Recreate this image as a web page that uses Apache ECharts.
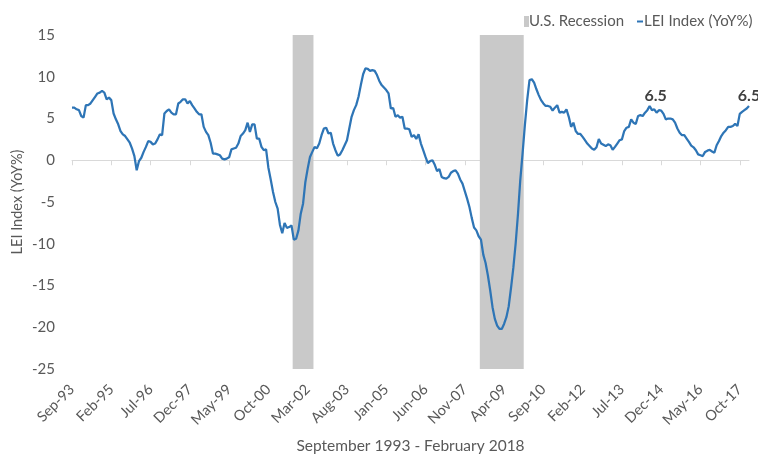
<!DOCTYPE html>
<html>
<head>
<meta charset="utf-8">
<script src="https://cdn.jsdelivr.net/npm/echarts@6/dist/echarts.min.js"></script>
<style>
html,body{margin:0;padding:0;background:#fff;}
#chart{width:758px;height:454px;}
</style>
</head>
<body>
<div id="chart"></div>
<script>
// Monthly LEI YoY% values, Sep-1993 .. Feb-2018
const startYear = 1993;
const startMonth = 8; // September (0-based)
const monthNames = ['Jan','Feb','Mar','Apr','May','Jun','Jul','Aug','Sep','Oct','Nov','Dec'];

const leiYoY = [
  6.3, 6.3, 6.1, 6.0, 5.3, 5.1, 6.6, 6.6, 6.8, 7.2, 7.6, 8.0,
  8.1, 8.3, 8.1, 7.3, 7.5, 7.2, 5.6, 4.9, 4.3, 3.5, 3.1, 2.9,
  2.5, 2.1, 1.4, 0.5, -1.2, -0.1, 0.3, 1.0, 1.6, 2.3, 2.2, 1.9,
  2.0, 2.5, 3.1, 3.0, 5.6, 5.9, 6.1, 5.7, 5.5, 5.5, 6.8, 7.0,
  7.3, 7.3, 6.8, 7.1, 6.6, 6.2, 5.8, 5.5, 5.5, 4.0, 3.4, 3.0,
  2.1, 0.8, 0.8, 0.7, 0.6, 0.2, 0.1, 0.2, 0.35, 1.3, 1.4, 1.5,
  2.0, 2.9, 3.2, 3.6, 4.5, 3.4, 4.3, 4.3, 2.6, 2.6, 1.6, 1.2,
  1.3, -0.9, -2.3, -3.8, -5.0, -5.8, -7.75, -8.75, -7.5, -8.1, -8.0, -7.8,
  -9.5, -9.4, -8.4, -6.4, -5.2, -2.6, -1.0, 0.4, 1.0, 1.6, 1.45, 2.0,
  3.0, 3.8, 3.9, 3.2, 3.3, 2.0, 1.2, 0.55, 0.7, 1.2, 1.8, 2.4,
  3.8, 5.2, 6.0, 6.6, 7.6, 9.0, 10.3, 11.0, 10.95, 10.7, 10.8, 10.7,
  10.2, 9.5, 9.0, 8.7, 8.4, 8.0, 6.2, 6.25, 5.2, 5.4, 5.1, 5.2,
  3.8, 3.8, 3.7, 2.8, 3.0, 2.55, 3.1, 2.0, 1.2, 0.4, -0.35, -0.1,
  0.0, -0.55, -1.3, -1.05, -2.0, -2.15, -2.2, -2.0, -1.5, -1.3, -1.2, -1.6,
  -2.3, -2.8, -3.7, -4.6, -5.6, -6.9, -8.05, -8.4, -9.1, -9.5, -11.3, -12.3,
  -13.8, -15.6, -17.6, -19.0, -19.8, -20.2, -20.2, -19.6, -18.8, -17.5, -15.3, -12.9,
  -10.0, -6.5, -2.4, 0.8, 4.2, 7.2, 9.6, 9.7, 9.3, 8.5, 7.8, 7.2,
  6.8, 6.5, 6.5, 6.4, 5.95, 6.3, 6.6, 5.7, 5.8, 5.7, 6.1, 5.2,
  4.0, 4.5, 3.5, 3.15, 3.15, 2.8, 2.4, 2.0, 1.7, 1.4, 1.25, 1.55,
  2.55, 2.0, 1.85, 1.7, 1.9, 1.8, 1.25, 1.6, 2.0, 2.4, 2.5, 3.5,
  3.9, 4.0, 4.9, 4.5, 4.35, 5.3, 5.4, 5.3, 5.7, 6.0, 6.5, 6.0,
  6.1, 5.7, 6.0, 5.95, 5.55, 4.9, 5.0, 5.0, 4.9, 4.5, 3.8, 3.3,
  3.0, 3.0, 2.6, 2.2, 1.75, 1.55, 1.2, 0.7, 0.6, 0.5, 1.0, 1.15,
  1.25, 1.05, 0.9, 1.8, 2.3, 2.9, 3.3, 3.6, 4.0, 4.0, 4.1, 4.35,
  4.1, 5.55, 5.8, 6.0, 6.2, 6.5
];

// Shaded recession spans as drawn on the chart (category labels, inclusive months)
const recessionStart = ['Sep-01', 'Jun-08'];
const recessionEnd   = ['May-02', 'Dec-09'];

// Points annotated with their value
const labelledPoints = ['Jul-14', 'Feb-18'];

const yTicks = { min: -25, max: 15, step: 5 };

// ---- build categories ----
const categories = leiYoY.map((_, i) => {
  const m = (startMonth + i) % 12;
  const y = startYear + Math.floor((startMonth + i) / 12);
  return monthNames[m] + '-' + String(y % 100).padStart(2, '0');
});

const recessionData = recessionStart.map((s, k) => [
  categories.indexOf(s), categories.indexOf(recessionEnd[k])
]);

const lineData = leiYoY.map((v, i) => {
  const li = labelledPoints.indexOf(categories[i]);
  if (li >= 0) {
    return {
      value: v,
      label: {
        show: true, position: 'top', distance: 2,
        offset: li === 0 ? [6, 0] : [0, 0],
        formatter: p => p.value.toFixed(1),
        fontFamily: 'Lato', fontWeight: 'bold', fontSize: 16, color: '#404040'
      }
    };
  }
  return v;
});

const FONT = 'Lato';
const TXT = '#595959';

const chart = echarts.init(document.getElementById('chart'), null, { renderer: 'canvas' });
chart.setOption({
  animation: false,
  backgroundColor: '#ffffff',
  textStyle: { fontFamily: FONT },
  legend: [
    {
      data: [{ name: 'U.S. Recession', icon: 'rect' }],
      left: 519, top: 9,
      itemWidth: 5, itemHeight: 11,
      textStyle: { fontFamily: FONT, fontSize: 15, color: TXT, padding: [0, 0, 0, -5] },
      selectedMode: false
    },
    {
      data: [{ name: 'LEI Index (YoY%)', icon: 'rect' }],
      left: 632, top: 9,
      itemWidth: 6, itemHeight: 2,
      textStyle: { fontFamily: FONT, fontSize: 15, color: TXT, padding: [0, 0, 0, -4] },
      selectedMode: false
    }
  ],
  grid: { left: 72, right: 9, top: 35, bottom: 85, containLabel: false, outerBoundsMode: 'none' },
  xAxis: [
    {
      type: 'category',
      data: categories,
      boundaryGap: false,
      position: 'bottom',
      axisLine: { show: true, onZero: true, lineStyle: { color: '#d9d9d9', width: 1 } },
      axisTick: { show: true, interval: 16, length: 5, inside: false, lineStyle: { color: '#d9d9d9' } },
      axisLabel: { show: false },
      splitLine: { show: false }
    },
    {
      type: 'category',
      data: categories,
      boundaryGap: false,
      position: 'bottom',
      axisLine: { show: false, onZero: false },
      axisTick: { show: false },
      axisLabel: {
        show: true, interval: 16, rotate: 45, margin: 18,
        fontFamily: FONT, fontSize: 14.5, color: TXT
      },
      name: 'September 1993 - February 2018',
      nameLocation: 'middle',
      nameGap: 69,
      nameMoveOverlap: false,
      nameTextStyle: { fontFamily: FONT, fontSize: 15.5, color: TXT },
      splitLine: { show: false }
    }
  ],
  yAxis: {
    type: 'value',
    min: yTicks.min, max: yTicks.max, interval: yTicks.step,
    axisLine: { show: false },
    axisTick: { show: false },
    splitLine: { show: false },
    axisLabel: { fontFamily: FONT, fontSize: 15, color: TXT, margin: 17 },
    name: 'LEI Index (YoY%)',
    nameLocation: 'middle',
    nameGap: 47,
    nameMoveOverlap: false,
    nameTextStyle: { fontFamily: FONT, fontSize: 14.5, color: TXT }
  },
  series: [
    {
      name: 'U.S. Recession', type: 'custom', xAxisIndex: 0,
      data: recessionData,
      encode: { x: [0, 1] },
      silent: true, z: 1,
      itemStyle: { color: '#c9c9c9' },
      renderItem: function (params, api) {
        const halfBand = api.size([1, 0])[0] / 2;
        const p1 = api.coord([api.value(0), yTicks.max]);
        const p2 = api.coord([api.value(1), yTicks.min]);
        return {
          type: 'rect',
          shape: { x: p1[0] - halfBand, y: p1[1], width: p2[0] - p1[0] + 2 * halfBand, height: p2[1] - p1[1] },
          style: { fill: '#c9c9c9' }
        };
      }
    },
    {
      name: 'LEI Index (YoY%)', type: 'line', xAxisIndex: 0,
      data: lineData,
      symbol: 'circle', symbolSize: 0.1,
      showSymbol: true, showAllSymbol: true,
      lineStyle: { color: '#2e75b6', width: 2.25 },
      itemStyle: { color: '#2e75b6' },
      z: 3
    }
  ]
});
</script>
</body>
</html>
